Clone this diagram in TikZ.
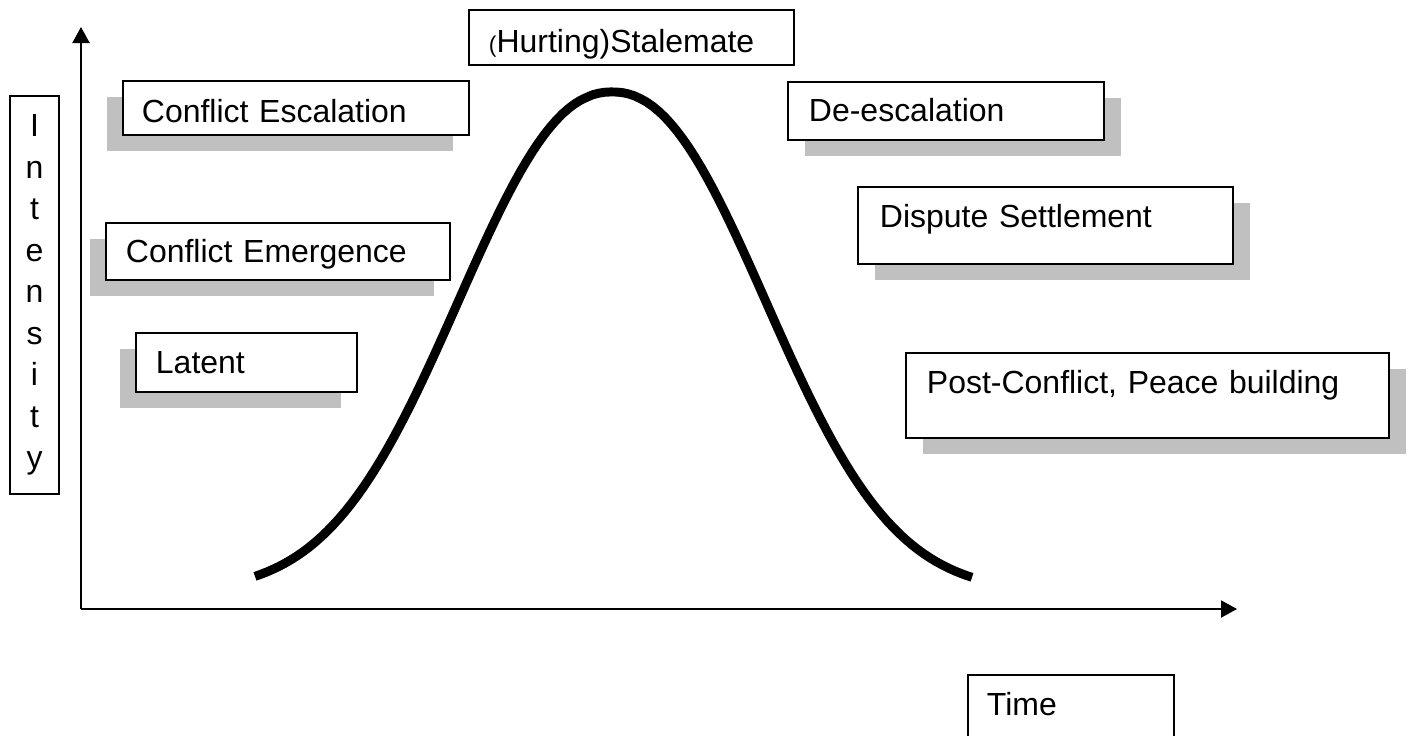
\documentclass[tikz,border=0pt]{standalone}
\usepackage{fontspec}
\setmainfont{Liberation Sans}
\usetikzlibrary{arrows.meta,shadows}
\definecolor{shadowgray}{RGB}{192,192,192}
\newcommand{\labfont}{\fontsize{18.2}{23.6}\selectfont}

\begin{document}
\begin{tikzpicture}[x=0.02cm,y=-0.02cm,
    phase/.style={draw, fill=white, line width=1.1pt, anchor=north west, inner ysep=0pt, align=left, font=\labfont},
    lshade/.style={drop shadow={shadow xshift=-0.32cm, shadow yshift=-0.32cm, fill=shadowgray, opacity=1}},
    rshade/.style={drop shadow={shadow xshift=0.34cm, shadow yshift=-0.32cm, fill=shadowgray, opacity=1}},
    axis/.style={line width=1.2pt, -{Triangle[length=0.32cm, width=0.34cm]}}]
\useasboundingbox (0,0) rectangle (1412,735);

\coordinate (origin) at (81,609);
\coordinate (ytop) at (81,27);
\coordinate (xend) at (1237,609);
\draw[axis] (origin) -- (ytop);
\draw[axis] (origin) -- (xend);

\node[draw, line width=1.1pt, font=\labfont, align=center, inner sep=0pt,
      minimum width=0.98cm, minimum height=7.96cm] (intensity) at (34.5,295)
      {I\\n\\t\\e\\n\\s\\i\\t\\y};

\node[phase, lshade, inner xsep=0.38cm, text width=6.16cm, text height=0.84cm, text depth=0.24cm]
    (escalation) at (122,80) {Conflict Escalation};
\node[phase, lshade, inner xsep=0.40cm, text width=6.08cm, text height=0.80cm, text depth=0.34cm]
    (emergence) at (105,222) {Conflict Emergence};
\node[phase, lshade, inner xsep=0.40cm, text width=3.62cm, text height=0.82cm, text depth=0.36cm]
    (latent) at (135,332) {Latent};
\node[phase, inner xsep=0.40cm, text width=5.70cm, text height=0.86cm, text depth=0.24cm]
    (stalemate) at (468,9) {{\fontsize{13}{15}\selectfont(}Hurting)Stalemate};
\node[phase, rshade, inner xsep=0.42cm, text width=5.48cm, text height=0.80cm, text depth=0.36cm]
    (deescalation) at (787,81) {De-escalation};
\node[phase, rshade, inner xsep=0.44cm, text width=6.62cm, text height=0.82cm, text depth=0.72cm]
    (settlement) at (857,186) {Dispute Settlement};
\node[phase, rshade, inner xsep=0.42cm, text width=8.82cm, text height=0.82cm, text depth=0.88cm]
    (postconflict) at (905,352) {Post-Conflict, Peace building};
\node[phase, inner xsep=0.38cm, text width=3.36cm, text height=0.82cm, text depth=0.78cm]
    (time) at (967,674) {Time};

\draw[line width=5.1pt] plot[domain=255:972, samples=120]
    (\x, {92+500*(1-exp(0-pow(abs(\x-612)/203,2.2)))});
\end{tikzpicture}
\end{document}
